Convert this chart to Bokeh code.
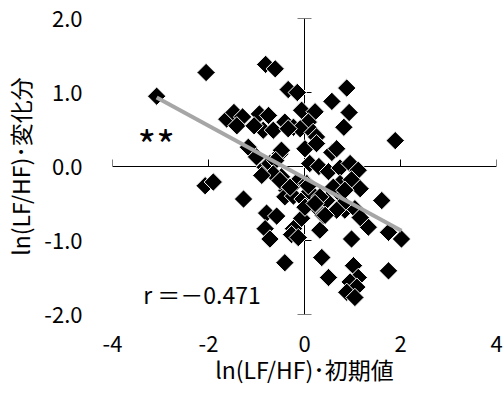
import numpy as np
from bokeh.plotting import figure
from bokeh.models import LinearAxis, FixedTicker, Range1d, Label, NumeralTickFormatter, Span
from bokeh.embed import file_html
from bokeh.resources import INLINE

# ln(LF/HF): initial value (x) vs. change (y)
initial = [
    -3.08, -2.05, -0.81, -0.61, -0.34, -0.15, 0.88, 0.57, 0.93, 0.82,
    1.89, -1.62, -1.47, -1.29, -1.41, -0.94, -0.75, -0.86, -1.05, -0.65,
    -0.41, -0.23, -0.06, 0.22, 0.08, -0.09, -0.34, 0.18, 0.25, 0.01,
    0.25, 0.57, 0.67, -0.51, -1.17, -1.00, -0.82, -0.72, -0.48, -0.60,
    -0.48, -0.65, -0.89, -0.16, -0.37, 0.11, 0.30, 0.50, 0.74, 0.95,
    1.12, 0.74, 0.98, 1.16, 1.61, -2.07, -1.90, -1.27, -0.79, -0.58,
    -0.82, -0.72, -0.23, -0.27, -0.13, -0.41, -0.41, -0.23, -0.03, -0.06,
    0.32, 0.36, 0.50, 0.98, 1.02, 1.12, 0.95, 1.09, 0.88, 1.05,
    1.75, 1.33, 1.75, 2.02, 0.84, 1.05, 1.16, 0.25, 0.46, 0.39,
    0.11, 0.05, 0.74, 0.81, -0.51, -0.30, 0.08, 0.32, 0.60, 0.84,
    0.01, 0.22, 0.67, 0.43,
]
change = [
    0.95, 1.27, 1.38, 1.32, 1.04, 1.00, 1.06, 0.88, 0.73, 0.53,
    0.35, 0.64, 0.73, 0.67, 0.55, 0.71, 0.69, 0.49, 0.55, 0.49,
    0.60, 0.53, 0.76, 0.74, 0.60, 0.51, 0.51, 0.46, 0.40, 0.24,
    0.31, 0.19, 0.24, 0.17, 0.26, 0.13, -0.01, 0.04, 0.22, 0.08,
    -0.14, -0.10, -0.12, -0.21, -0.32, 0.04, 0.00, -0.07, -0.02, 0.04,
    -0.05, -0.23, -0.18, -0.30, -0.46, -0.26, -0.21, -0.44, -0.63, -0.67,
    -0.84, -0.98, -0.84, -0.92, -0.96, -1.30, -0.41, -0.40, -0.44, -0.70,
    -0.86, -1.23, -1.50, -0.98, -1.34, -1.50, -1.56, -1.63, -1.70, -1.77,
    -1.41, -0.82, -0.89, -0.98, -0.59, -0.57, -0.69, -0.55, -0.46, -0.66,
    -0.34, -0.23, -0.37, -0.50, -0.19, -0.28, -0.26, -0.41, -0.28, -0.32,
    -0.55, -0.50, -0.59, -0.66,
]

# linear trend line and correlation
trend_slope = -0.353
trend_intercept = -0.154
r_text = "r ＝－0.471"
sig_text = "**"

x_ticks = [-4, -2, 0, 2, 4]
y_ticks = [-2, -1, 0, 1, 2]
x_title = "ln(LF/HF)･初期値"
y_title = "ln(LF/HF)･変化分"

FONT = "Noto Sans CJK JP"

p = figure(width=504, height=400, output_backend="svg", toolbar_location=None,
           x_range=Range1d(-4, 4), y_range=Range1d(-2, 2),
           x_axis_type=None, y_axis_type=None,
           min_border_left=112, min_border_right=8,
           min_border_top=18, min_border_bottom=86)
p.outline_line_color = None
p.background_fill_color = "white"
p.border_fill_color = "white"

# outer axes carry only the tick labels and titles
xlab = LinearAxis(ticker=FixedTicker(ticks=x_ticks), axis_label=x_title,
                  formatter=NumeralTickFormatter(format="0"))
ylab = LinearAxis(ticker=FixedTicker(ticks=y_ticks), axis_label=y_title,
                  formatter=NumeralTickFormatter(format="0.0"))
for ax in (xlab, ylab):
    ax.axis_line_color = None
    ax.major_tick_line_color = None
    ax.minor_tick_line_color = None
    ax.major_tick_in = 0
    ax.major_tick_out = 0
    ax.major_label_text_font = FONT
    ax.major_label_text_font_size = "22px"
    ax.major_label_text_color = "black"
    ax.axis_label_text_font = FONT
    ax.axis_label_text_font_size = "23px"
    ax.axis_label_text_font_style = "normal"
    ax.axis_label_text_color = "black"
xlab.major_label_standoff = 21
xlab.axis_label_standoff = -3
ylab.major_label_standoff = 30
ylab.axis_label_standoff = 4
p.add_layout(xlab, "below")
p.add_layout(ylab, "left")

# axis lines crossing at the origin, drawn beneath the markers
p.add_layout(Span(location=0, dimension="width", line_color="black",
                  line_width=1, level="underlay"))
p.add_layout(Span(location=0, dimension="height", line_color="black",
                  line_width=1, level="underlay"))
zx = [0] * len(x_ticks)
zy = [0] * len(y_ticks)
p.ray(x_ticks, zx, length=7, length_units="screen", angle=np.pi / 2,
      line_color="black", line_width=1)
p.ray(zy, y_ticks, length=7, length_units="screen", angle=0,
      line_color="black", line_width=1)
p.ray(zy, y_ticks, length=7, length_units="screen", angle=np.pi,
      line_color="black", line_width=1)

p.scatter(initial, change, marker="square", size=13, angle=np.pi / 4,
          fill_color="black", line_color="white", line_width=1)

tx = np.array([min(initial), max(initial)])
p.line(tx, trend_slope * tx + trend_intercept, line_color="#a6a6a6", line_width=4)

p.add_layout(Label(x=-3.09, y=0.30, text=sig_text, text_font=FONT,
                   text_font_size="40px", text_align="center",
                   text_baseline="middle", text_color="black"))
p.add_layout(Label(x=-3.36, y=-1.72, text=r_text, text_font=FONT,
                   text_font_size="23px", text_align="left",
                   text_baseline="middle", text_color="black"))

open("out.html", "w").write(file_html(p, INLINE))
